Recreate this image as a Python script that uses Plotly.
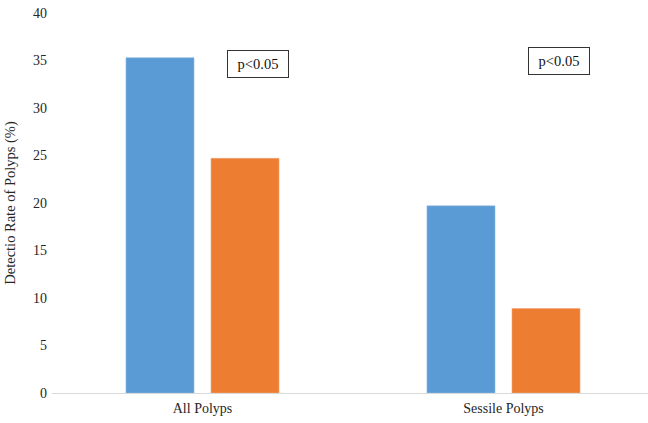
import plotly.graph_objects as go

categories = ["All Polyps", "Sessile Polyps"]
series_a = [35.3, 19.7]
series_b = [24.7, 8.9]
y_ticks = [0, 5, 10, 15, 20, 25, 30, 35, 40]
p_labels = ["p<0.05", "p<0.05"]

FAM = "Liberation Serif, Times New Roman, serif"

fig = go.Figure()
fig.add_trace(go.Bar(x=categories, y=series_a, marker=dict(color="#5B9BD5", line=dict(color="#8fbce6", width=0.6)), showlegend=False))
fig.add_trace(go.Bar(x=categories, y=series_b, marker=dict(color="#ED7D31", line=dict(color="#f3a878", width=0.6)), showlegend=False))

font = dict(family=FAM, size=14, color="#262626")

fig.update_layout(
    width=654, height=423,
    margin=dict(l=52, r=0, t=13, b=30),
    paper_bgcolor="white", plot_bgcolor="white",
    barmode="group", bargap=0.435, bargroupgap=0.2,
    font=font,
    xaxis=dict(showgrid=False, showline=True, linecolor="#d9d9d9", linewidth=1.2,
               ticks="", tickfont=font, zeroline=False, ticklabelstandoff=2),
    yaxis=dict(range=[0, 40], tickvals=y_ticks, showgrid=False, zeroline=False,
               showline=False, ticks="", tickfont=font, ticklabelstandoff=4,
               title=dict(text="Detectio Rate of Polyps (%)", font=dict(family=FAM, size=14.5, color="#262626"), standoff=13)),
)

# annotation centres in paper coords (plot area spans x 52..654, y 13..393)
for xp, yp, txt in zip([0.3422, 0.843], [0.8645, 0.874], p_labels):
    fig.add_annotation(x=xp, y=yp, xref="paper", yref="paper", xanchor="center", yanchor="middle",
                       text=txt, showarrow=False,
                       font=dict(family=FAM, size=14.5, color="#111111"),
                       bordercolor="#333333", borderwidth=1, borderpad=4, bgcolor="white",
                       width=52, height=18)

fig.write_html("out.html", config={"displayModeBar": False})

with open("out.html", "r", encoding="utf-8") as f:
    html = f.read()
html = html.replace("<head>", "<head><style>html,body{margin:0;padding:0;overflow:hidden;}</style>", 1)
with open("out.html", "w", encoding="utf-8") as f:
    f.write(html)
